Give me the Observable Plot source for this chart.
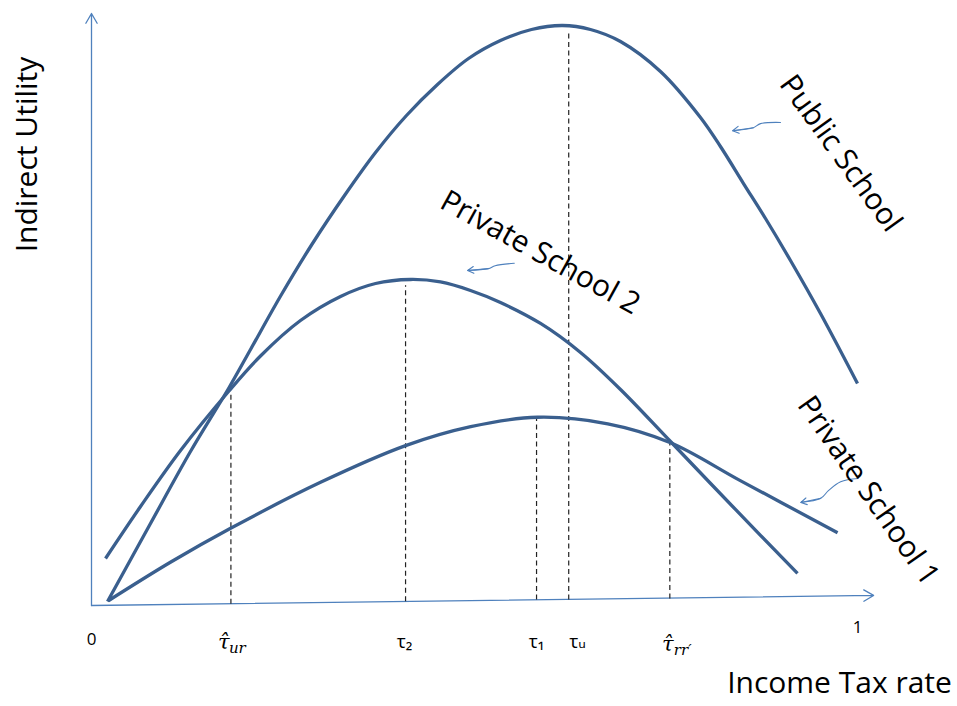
<!DOCTYPE html>
<html><head><meta charset="utf-8">
<script src="https://cdn.jsdelivr.net/npm/d3@7"></script>
<script src="https://cdn.jsdelivr.net/npm/@observablehq/plot@0.6"></script>
<style>body{margin:0;background:#fff} #chart svg{display:block;background:#fff}</style>
</head><body><div id="chart"></div>
<script>
// ---- data (x = income tax rate 0..1, y = indirect utility, arbitrary 0..1) ----
const publicSchoolRate    = [0.0209,0.0770,0.1292,0.1789,0.2076,0.2480,0.2885,0.3303,0.3708,0.4112,0.4517,0.4922,0.5339,0.5744,0.6149,0.6514,0.6906,0.7428,0.7950,0.8211,0.8512,0.8799,0.9125,0.9517,1.0000];
const publicSchoolUtility = [0.0068,0.1385,0.2601,0.3666,0.4324,0.5253,0.6115,0.6926,0.7652,0.8277,0.8801,0.9240,0.9544,0.9730,0.9797,0.9730,0.9527,0.9020,0.8243,0.7753,0.7128,0.6537,0.5828,0.4932,0.3750];

const private2Rate    = [0.0183,0.0640,0.1162,0.1789,0.2206,0.2728,0.3251,0.3708,0.4164,0.4556,0.4948,0.5339,0.5862,0.6384,0.6906,0.7559,0.8407,0.9217];
const private2Utility = [0.0794,0.1672,0.2618,0.3615,0.4215,0.4814,0.5220,0.5439,0.5507,0.5465,0.5321,0.5118,0.4764,0.4274,0.3649,0.2770,0.1622,0.0541];

const private1Rate    = [0.022,0.103,0.181,0.299,0.410,0.495,0.582,0.674,0.756,0.847,0.974];
const private1Utility = [0.008,0.073,0.130,0.208,0.270,0.302,0.318,0.307,0.275,0.211,0.123];

// critical tax rates: τ̂ur, τ2, τ1, τu, τ̂rr'
const criticalRate    = [0.182,0.410,0.581,0.623,0.755];
const criticalUtility = [0.358,0.541,0.318,0.971,0.275];
const criticalBase    = [0.003,0.007,0.010,0.010,0.012];

const axisEndRate = 1.021, axisEndUtility = 0.017;

// curve labels and their pointer arrows
const curveLabels = ["Public School","Private School 2","Private School 1"];
const curveLabelRate = [0.978,0.586,1.014];
const curveLabelUtility = [0.7635,0.596,0.194];
const curveLabelAngle = [54,29,55];

const pointerPublicRate = [0.8995,0.8734,0.864,0.837];
const pointerPublicUtility = [0.816,0.814,0.807,0.802];
const pointerP2Rate = [0.552,0.527,0.518,0.491];
const pointerP2Utility = [0.578,0.574,0.569,0.566];
const pointerP1Rate = [1.001,0.978,0.962,0.952,0.926];
const pointerP1Utility = [0.2145,0.209,0.194,0.181,0.174];

// ---- build ----
const zip = (xs, ys) => xs.map((x, i) => ({x, y: ys[i]}));
const curves = [zip(publicSchoolRate, publicSchoolUtility), zip(private2Rate, private2Utility), zip(private1Rate, private1Utility)];
const pointers = [zip(pointerPublicRate, pointerPublicUtility), zip(pointerP2Rate, pointerP2Utility), zip(pointerP1Rate, pointerP1Utility)];
const crit = criticalRate.map((x, i) => ({x, top: criticalUtility[i], base: criticalBase[i]}));
const labels = curveLabels.map((t, i) => ({t, x: curveLabelRate[i], y: curveLabelUtility[i], a: curveLabelAngle[i]}));

const curveColor = "#3a5f8e", axisColor = "#4f81bd";
const sans = "'Open Sans', 'DejaVu Sans', sans-serif";
const serif = "'DejaVu Serif', serif";

const marks = [
  // axes
  Plot.arrow([0], {x1: 0, y1: 0, x2: 0, y2: 1, stroke: axisColor, strokeWidth: 1.3, headLength: 13, headAngle: 60}),
  Plot.arrow([0], {x1: 0, y1: 0, x2: axisEndRate, y2: axisEndUtility, stroke: axisColor, strokeWidth: 1.3, headLength: 13, headAngle: 60}),
  // dashed guides
  Plot.link(crit, {x1: "x", x2: "x", y1: "base", y2: "top", stroke: "#222", strokeWidth: 1.2, strokeDasharray: "5,3.5"}),
  // curves
  ...curves.map(c => Plot.line(c, {x: "x", y: "y", curve: "catmull-rom", stroke: curveColor, strokeWidth: 3.3, strokeLinecap: "butt"})),
  // pointers
  ...pointers.map(p => Plot.line(p, {x: "x", y: "y", curve: "catmull-rom", stroke: axisColor, strokeWidth: 1.1})),
  ...pointers.map(p => Plot.arrow([0], {x1: p[p.length-2].x, y1: p[p.length-2].y, x2: p[p.length-1].x, y2: p[p.length-1].y, stroke: axisColor, strokeWidth: 1.1, headLength: 12, headAngle: 60})),
  // curve labels
  Plot.text(labels, {x: "x", y: "y", text: "t", rotate: "a", fontSize: 30, fontFamily: sans, fill: "#000", textAnchor: "middle"}),
  // tick labels
  Plot.text(["0"], {x: 0, y: 0, dy: 34, fontSize: 17, fontFamily: sans, fill: "#000"}),
  Plot.text(["1"], {x: 1, y: 0, dy: 22, fontSize: 17, fontFamily: sans, fill: "#000"}),
  Plot.text(["τ̂"], {x: criticalRate[0], y: 0, dx: -7, dy: 37, fontSize: 21, fontFamily: serif, fontStyle: "italic", fill: "#000"}),
  Plot.text(["ur"], {x: criticalRate[0], y: 0, dx: -2, dy: 43, textAnchor: "start", fontSize: 15, fontFamily: serif, fontStyle: "italic", fill: "#000"}),
  Plot.text(["τ₂"], {x: criticalRate[1], y: 0, dx: -1, dy: 36, fontSize: 19, fontFamily: sans, fill: "#000"}),
  Plot.text(["τ₁"], {x: criticalRate[2], y: 0, dx: 0, dy: 36, fontSize: 19, fontFamily: sans, fill: "#000"}),
  Plot.text(["τᵤ"], {x: criticalRate[3], y: 0, dx: 9, dy: 36, fontSize: 19, fontFamily: sans, fill: "#000"}),
  Plot.text(["τ̂"], {x: criticalRate[4], y: 0, dx: -2, dy: 39, fontSize: 21, fontFamily: serif, fontStyle: "italic", fill: "#000"}),
  Plot.text(["rr′"], {x: criticalRate[4], y: 0, dx: 4, dy: 45, textAnchor: "start", fontSize: 15, fontFamily: serif, fontStyle: "italic", fill: "#000"}),
  // axis titles
  Plot.text(["Income Tax rate"], {frameAnchor: "bottom-right", dx: -18, dy: 87, textAnchor: "middle", fontSize: 30, fontFamily: sans, fill: "#000"}),
  Plot.text(["Indirect Utility"], {frameAnchor: "top-left", dx: -76, dy: 141, rotate: -90, textAnchor: "middle", fontSize: 30, fontFamily: sans, fill: "#000"})
];

const chart = Plot.plot({
  width: 957, height: 706,
  marginLeft: 91, marginRight: 100, marginTop: 13, marginBottom: 101,
  x: {domain: [0, 1], axis: null},
  y: {domain: [0, 1], axis: null},
  style: {background: "#fff", overflow: "visible"},
  marks
});
document.getElementById("chart").appendChild(chart);
</script>
</body></html>
